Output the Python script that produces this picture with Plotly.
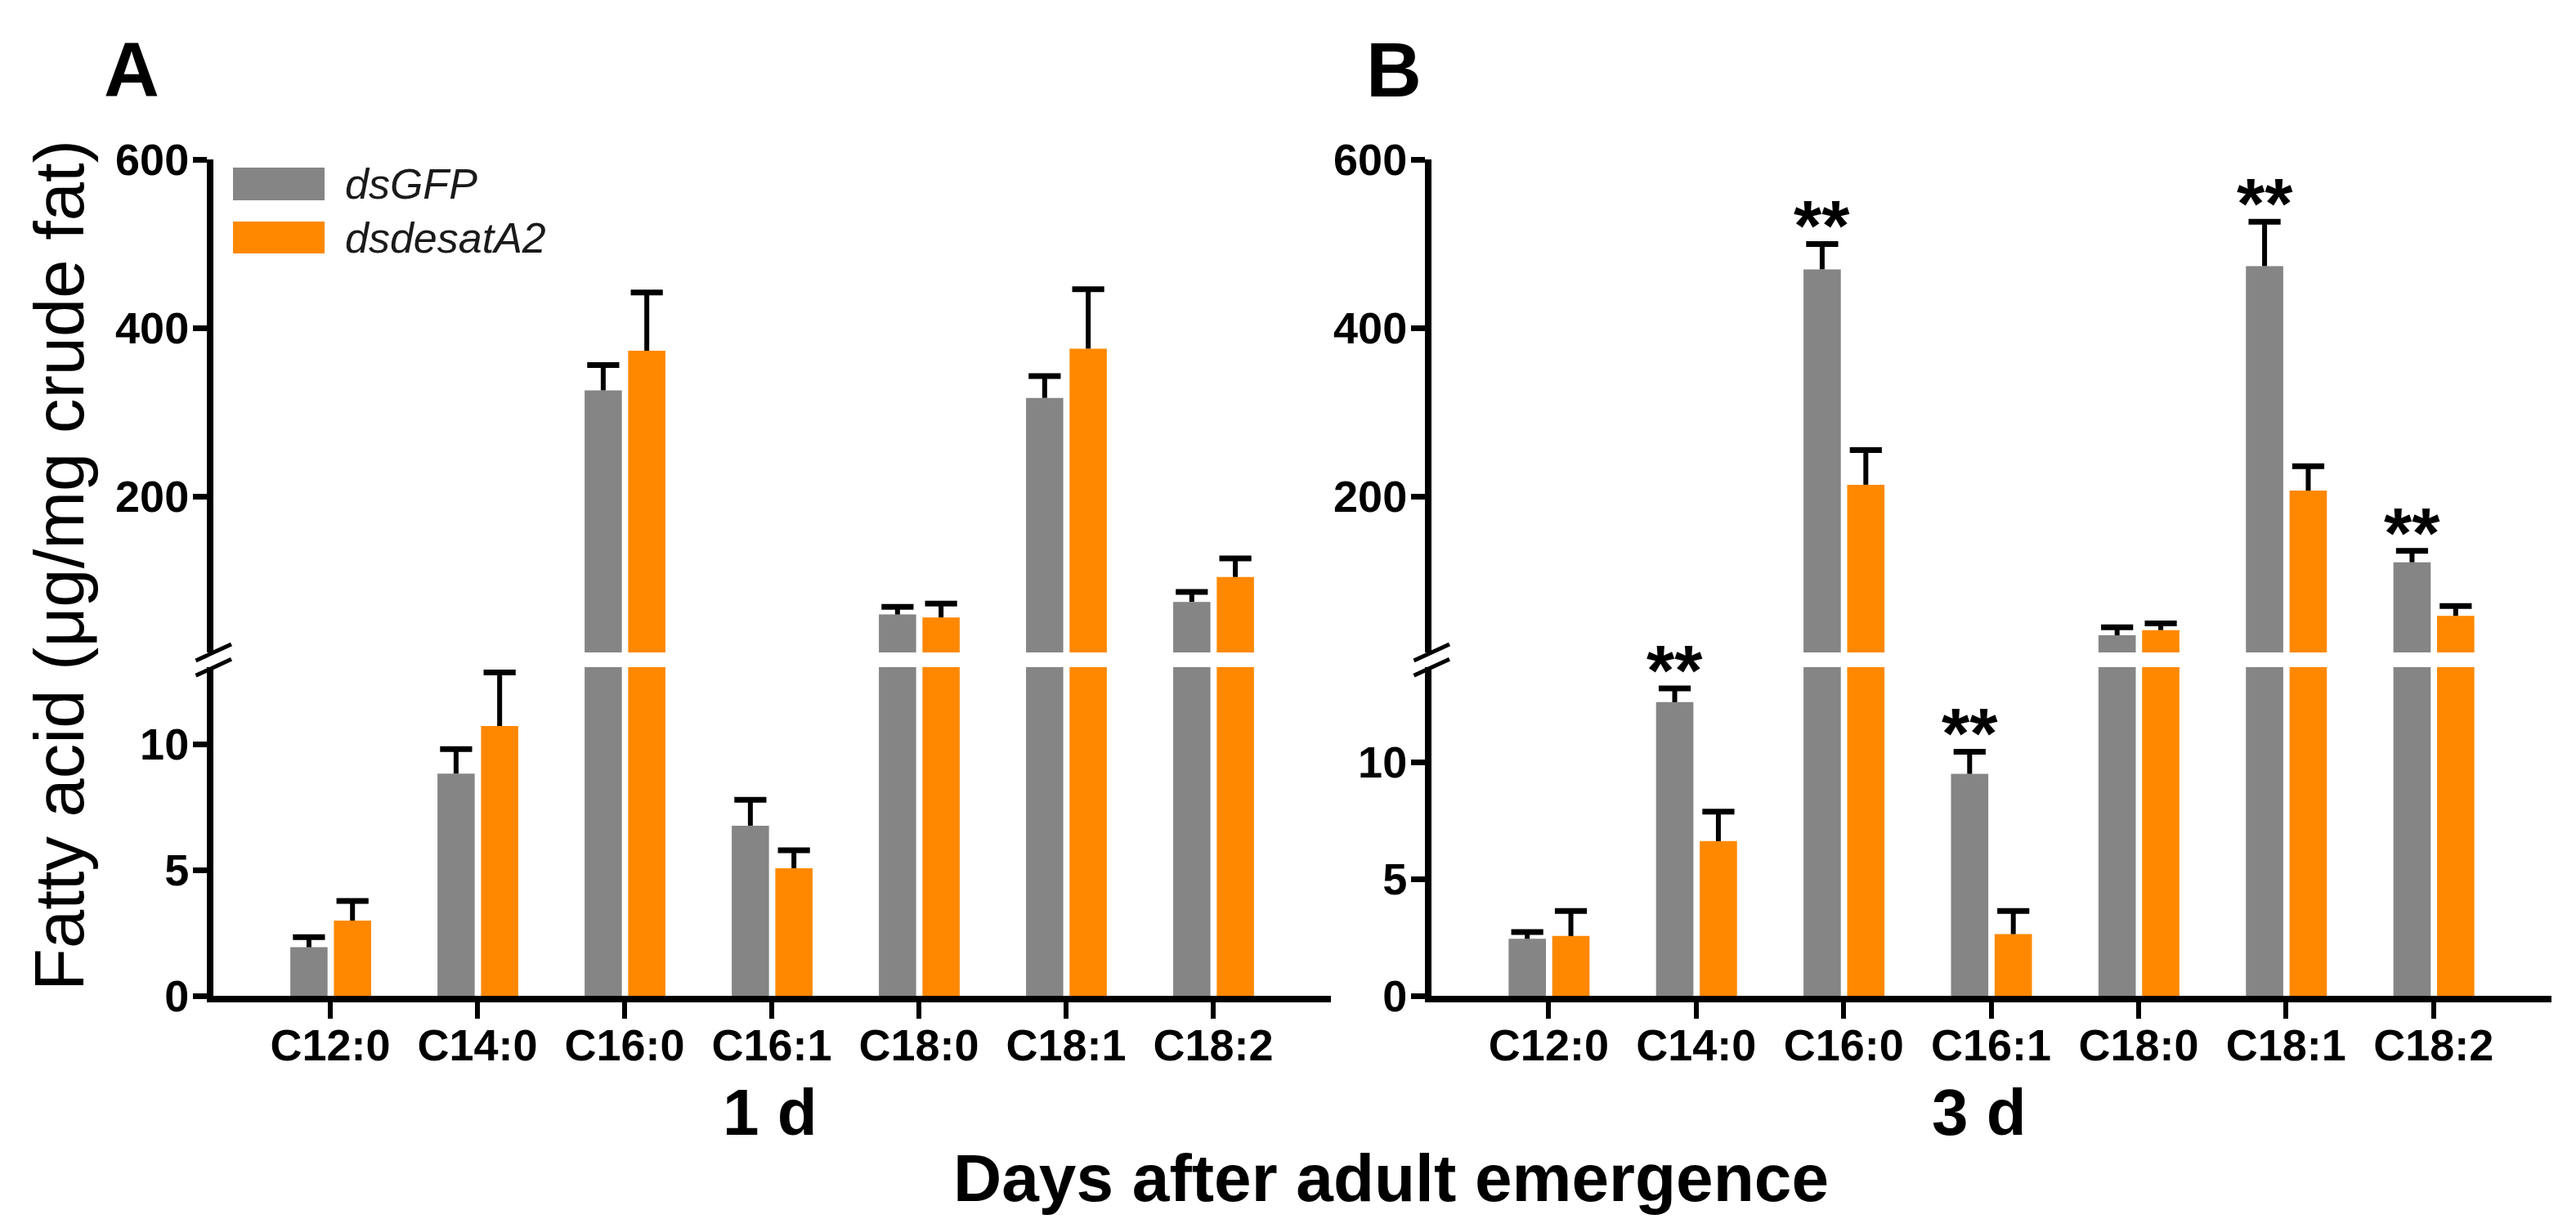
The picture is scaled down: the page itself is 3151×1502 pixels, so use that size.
import plotly.graph_objects as go

# ---------------- data ----------------
categories = ["C12:0", "C14:0", "C16:0", "C16:1", "C18:0", "C18:1", "C18:2"]
series_names = ["dsGFP", "dsdesatA2"]

# Panel A: 1 d after adult emergence
a_gfp = [1.93, 8.83, 326, 6.76, 60, 317, 75]
a_gfp_err = [0.40, 0.97, 30, 1.03, 9, 26, 11.7]
a_desat = [2.99, 10.72, 373, 5.07, 56.5, 375.5, 104.5]
a_desat_err = [0.78, 2.13, 69, 0.71, 16.5, 70.5, 22]

# Panel B: 3 d after adult emergence
b_gfp = [2.44, 12.57, 469.6, 9.50, 35.3, 473.4, 122]
b_gfp_err = [0.29, 0.59, 30, 0.95, 9.5, 52.6, 13.5]
b_desat = [2.56, 6.62, 214, 2.64, 41.5, 207, 58.4]
b_desat_err = [1.07, 1.26, 41, 0.99, 8, 29, 11.6]
b_sig = ["", "**", "**", "**", "", "**", "**"]

a_sig = ["", "", "", "", "", "", ""]

lower_ticks_a = [0, 5, 10]
lower_ticks_b = [0, 5, 10]
upper_ticks = [200, 400, 600]

# ---------------- layout helpers ----------------
W, H = 3151, 1502
FONT = "Arial, Liberation Sans, sans-serif"


def px(x):
    return x / W


def py(y):
    return 1 - y / H


GRAY = "#858585"
ORANGE = "#FF8800"
colors = [GRAY, ORANGE]
bar_w = 0.253
offs = [-0.272, 0.024]

lower_dom = [py(1210), py(808)]
upper_dom = [py(790), py(187)]
xr = [-0.795, 6.8]
lower_max_a = 13.06
lower_max_b = 14.07
upper_range = [15, 600]

idx = list(range(len(categories)))

fig = go.Figure()

panels = [
    dict(vals=[a_gfp, a_desat], errs=[a_gfp_err, a_desat_err], sig=a_sig,
         x="x", ylow="y", yup="y3", lmax=lower_max_a),
    dict(vals=[b_gfp, b_desat], errs=[b_gfp_err, b_desat_err], sig=b_sig,
         x="x2", ylow="y2", yup="y4", lmax=lower_max_b),
]

annotations = []
for p in panels:
    for s in range(2):
        vals, errs = p["vals"][s], p["errs"][s]
        centers = [i + offs[s] + bar_w / 2 for i in idx]
        tops = [v + e for v, e in zip(vals, errs)]
        for ya, lo, hi in ((p["ylow"], 0, p["lmax"]), (p["yup"], upper_range[0], upper_range[1])):
            fig.add_trace(go.Bar(
                x=idx, y=vals, width=bar_w, offset=offs[s],
                marker=dict(color=colors[s], line=dict(width=0)),
                name=series_names[s], xaxis=p["x"], yaxis=ya, showlegend=False,
            ))
            xs, ys, cx, cy = [], [], [], []
            for c, v, t in zip(centers, vals, tops):
                # keep only the error bars that fall inside this segment
                if t >= lo and v <= hi:
                    xs += [c, c, None]
                    ys += [v, t, None]
                if lo <= t <= hi:
                    cx.append(c)
                    cy.append(t)
            fig.add_trace(go.Scatter(
                x=xs, y=ys, mode="lines", line=dict(color="black", width=6),
                xaxis=p["x"], yaxis=ya, showlegend=False, hoverinfo="skip",
            ))
            fig.add_trace(go.Scatter(
                x=cx, y=cy, mode="markers",
                marker=dict(symbol="line-ew", size=28, color="black",
                            line=dict(width=7, color="black")),
                xaxis=p["x"], yaxis=ya, showlegend=False, hoverinfo="skip",
            ))
        if s == 0:
            for c, t, sg in zip(centers, tops, p["sig"]):
                if sg:
                    ya = p["ylow"] if t < p["lmax"] else p["yup"]
                    annotations.append(dict(
                        x=c, y=t, xref=p["x"], yref=ya, text=sg, showarrow=False,
                        xanchor="center", yanchor="bottom", yshift=-29,
                        font=dict(family=FONT, size=88, color="black", weight="bold"),
                    ))

axis_common = dict(
    showline=True, linecolor="black", linewidth=8, showgrid=False, zeroline=False,
    ticks="outside", tickcolor="black", automargin=False,
    tickfont=dict(family=FONT, size=54, color="black", weight="bold"),
)

layout_axes = dict(
    xaxis=dict(domain=[px(253), px(1620)], range=xr, anchor="y",
               tickvals=idx, ticktext=categories, ticklen=20, tickwidth=6,
               ticklabelstandoff=-14, **axis_common),
    xaxis2=dict(domain=[px(1743), px(3113)], range=xr, anchor="y2",
                tickvals=idx, ticktext=categories, ticklen=20, tickwidth=6,
                ticklabelstandoff=-14, **axis_common),
    yaxis=dict(domain=lower_dom, range=[0, lower_max_a], anchor="x",
               tickvals=lower_ticks_a, ticklen=17, tickwidth=7,
               ticklabelstandoff=-6, **axis_common),
    yaxis2=dict(domain=lower_dom, range=[0, lower_max_b], anchor="x2",
                tickvals=lower_ticks_b, ticklen=17, tickwidth=7,
                ticklabelstandoff=-6, **axis_common),
    yaxis3=dict(domain=upper_dom, range=upper_range, anchor="x",
                tickvals=upper_ticks, ticklen=17, tickwidth=7,
                ticklabelstandoff=-6, **axis_common),
    yaxis4=dict(domain=upper_dom, range=upper_range, anchor="x2",
                tickvals=upper_ticks, ticklen=17, tickwidth=7,
                ticklabelstandoff=-6, **axis_common),
)

shapes = []
# axis break marks
for ax_x in (253, 1743):
    for dy in (0, 18.3):
        shapes.append(dict(type="line", xref="paper", yref="paper",
                           x0=px(ax_x - 21.5), y0=py(800 + dy),
                           x1=px(ax_x + 22), y1=py(780 + dy),
                           line=dict(color="black", width=5)))

# legend swatches
leg_rows = [(197, 237), (263, 302)]
for (y0, y1), col, nm in zip(leg_rows, colors, series_names):
    shapes.append(dict(type="rect", xref="paper", yref="paper",
                       x0=px(277), x1=px(389), y0=py(y1), y1=py(y0),
                       fillcolor=col, line=dict(width=0)))
    annotations.append(dict(x=px(412), y=py((y0 + y1) / 2), xref="paper", yref="paper",
                            text=f"<i>{nm}</i>", showarrow=False, xanchor="left",
                            yanchor="middle",
                            font=dict(family=FONT, size=52, color="#1a1a1a")))

# texts
annotations += [
    dict(x=px(153), y=py(77), xref="paper", yref="paper", text="A", showarrow=False,
         xanchor="center", yanchor="middle",
         font=dict(family=FONT, size=94, color="black", weight="bold")),
    dict(x=px(1697), y=py(77), xref="paper", yref="paper", text="B", showarrow=False,
         xanchor="center", yanchor="middle",
         font=dict(family=FONT, size=94, color="black", weight="bold")),
    dict(x=px(934), y=py(1352), xref="paper", yref="paper", text="1 d", showarrow=False,
         xanchor="center", yanchor="middle",
         font=dict(family=FONT, size=80, color="black", weight="bold")),
    dict(x=px(2413), y=py(1352), xref="paper", yref="paper", text="3 d", showarrow=False,
         xanchor="center", yanchor="middle",
         font=dict(family=FONT, size=80, color="black", weight="bold")),
    dict(x=px(1693), y=py(1432), xref="paper", yref="paper",
         text="Days after adult emergence", showarrow=False,
         xanchor="center", yanchor="middle",
         font=dict(family=FONT, size=82, color="black", weight="bold")),
    dict(x=px(64), y=py(684), xref="paper", yref="paper",
         text="Fatty acid (μg/mg crude fat)", showarrow=False, textangle=-90,
         xanchor="center", yanchor="middle",
         font=dict(family=FONT, size=85, color="black")),
]

fig.update_layout(
    width=W, height=H, autosize=False,
    margin=dict(l=0, r=0, t=0, b=0, autoexpand=False),
    paper_bgcolor="white", plot_bgcolor="white",
    barmode="overlay", showlegend=False,
    shapes=shapes, annotations=annotations,
    **layout_axes,
)

fig.write_html("out.html")
